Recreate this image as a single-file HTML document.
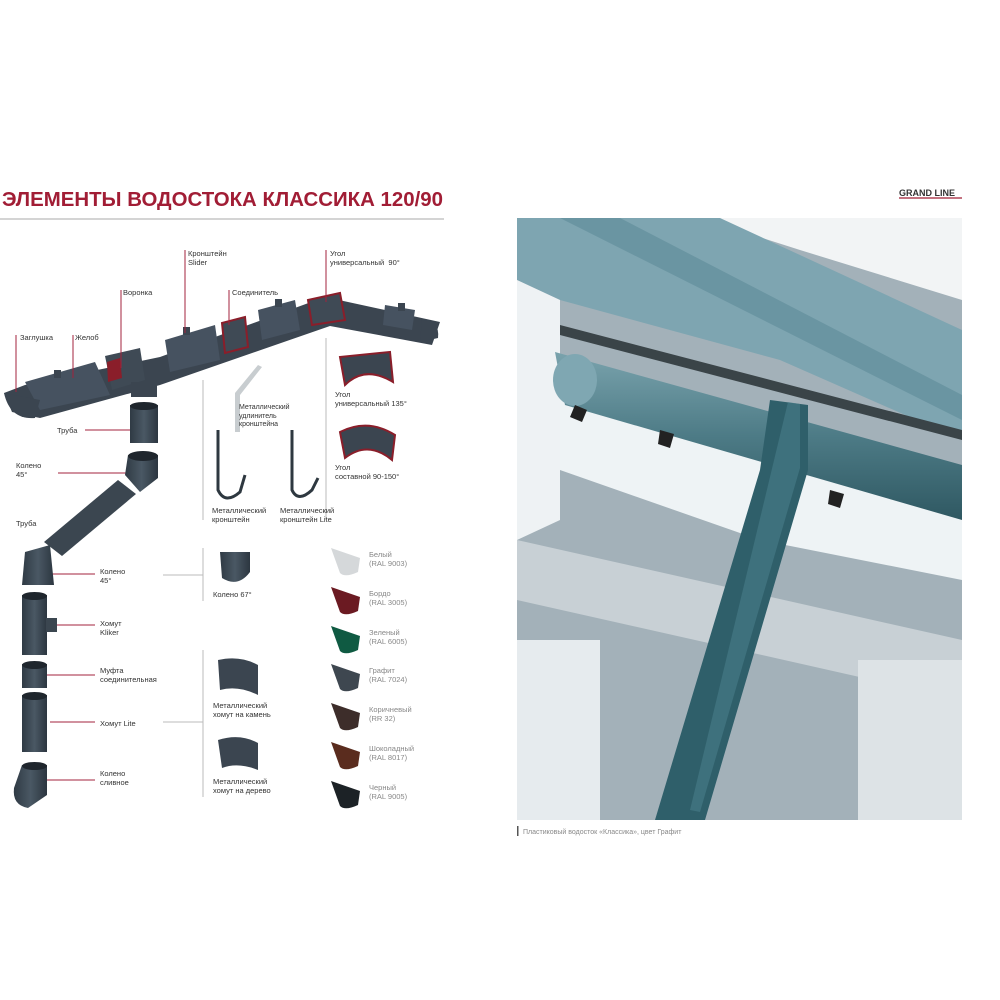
<!DOCTYPE html>
<html><head><meta charset="utf-8"><style>
body{margin:0;width:1000px;height:1000px;background:#fff;position:relative;overflow:hidden;font-family:"Liberation Sans","DejaVu Sans",sans-serif}
.t{position:absolute;font-size:7.5px;line-height:9px;color:#333;white-space:nowrap}
.g{color:#888}
svg{position:absolute;left:0;top:0}
</style></head><body>
<svg width="1000" height="1000" viewBox="0 0 1000 1000">
<defs>
<linearGradient id="pp" x1="0" x2="1"><stop offset="0" stop-color="#2f3a44"/><stop offset=".5" stop-color="#4a5864"/><stop offset="1" stop-color="#2c3640"/></linearGradient>
<linearGradient id="gt" x1="0" y1="0" x2="0" y2="1"><stop offset="0" stop-color="#7aa3ad"/><stop offset=".5" stop-color="#4d7b86"/><stop offset="1" stop-color="#2f5862"/></linearGradient>
</defs>
<text x="2" y="206" font-family="Liberation Sans,sans-serif" font-weight="bold" font-size="20" fill="#a11d35" textLength="441" lengthAdjust="spacingAndGlyphs">ЭЛЕМЕНТЫ ВОДОСТОКА КЛАССИКА 120/90</text>
<line x1="0" y1="219" x2="444" y2="219" stroke="#aaa" stroke-width="1"/>
<!-- gutter chain -->
<polygon points="4,393 25,385 160,357 325,297 440,322 432,345 330,326 160,385 40,418 12,412" fill="#3b4550"/>
<polygon points="25,382 95,362 110,395 40,410" fill="#465260"/>
<polygon points="105,356 140,348 145,380 112,390" fill="#3f4a55"/>
<polygon points="165,340 215,325 220,360 170,372" fill="#465260"/>
<polygon points="222,323 245,317 248,347 225,353" fill="#3f4a55" stroke="#8a1e2a" stroke-width="2"/>
<polygon points="258,310 295,300 300,330 262,340" fill="#465260"/>
<polygon points="308,300 340,293 345,320 312,325" fill="#3f4a55" stroke="#8a1e2a" stroke-width="2"/>
<polygon points="385,305 415,310 412,330 383,325" fill="#465260"/>
<polygon points="107,362 120,358 122,378 108,382" fill="#8a1e2a"/>
<path d="M4 393 Q10 420 35 418 L40 400 Z" fill="#3b4550"/>
<path d="M422 320 Q440 320 438 338 L420 342 Z" fill="#3b4550"/>
<rect x="54" y="370" width="7" height="8" fill="#3b4550"/><rect x="183" y="327" width="7" height="8" fill="#3b4550"/><rect x="275" y="299" width="7" height="8" fill="#3b4550"/><rect x="398" y="303" width="7" height="8" fill="#3b4550"/>
<rect x="131" y="382" width="26" height="15" fill="#3b4550"/>
<!-- red label lines -->
<g stroke="#a3233c" stroke-width="1">
<line x1="16" y1="335" x2="16" y2="392"/><line x1="73" y1="335" x2="73" y2="378"/><line x1="121" y1="290" x2="121" y2="368"/>
<line x1="185" y1="250" x2="185" y2="333"/><line x1="229" y1="290" x2="229" y2="325"/><line x1="326" y1="250" x2="326" y2="302"/>
<line x1="85" y1="430" x2="130" y2="430"/><line x1="58" y1="473" x2="135" y2="473"/>
<line x1="43" y1="574" x2="95" y2="574"/><line x1="55" y1="625" x2="95" y2="625"/><line x1="43" y1="675" x2="95" y2="675"/><line x1="50" y1="722" x2="95" y2="722"/><line x1="45" y1="780" x2="95" y2="780"/>
</g>
<g stroke="#bbb" stroke-width="1">
<line x1="203" y1="380" x2="203" y2="520"/><line x1="326" y1="338" x2="326" y2="520"/>
<line x1="203" y1="548" x2="203" y2="601"/><line x1="163" y1="575" x2="203" y2="575"/>
<line x1="203" y1="650" x2="203" y2="797"/><line x1="163" y1="722" x2="203" y2="722"/>
</g>
<!-- pipes left -->
<rect x="130" y="405" width="28" height="38" fill="url(#pp)"/><ellipse cx="144" cy="406" rx="14" ry="4" fill="#1f262d"/>
<path d="M128 455 L158 455 L158 478 L140 492 L125 475 Z" fill="url(#pp)"/><ellipse cx="143" cy="456" rx="15" ry="5" fill="#1f262d"/>
<polygon points="118,480 136,494 62,556 44,542" fill="#3b4650"/>
<path d="M25 552 L50 545 L54 585 L22 585 Z" fill="url(#pp)"/>
<rect x="22" y="595" width="25" height="60" fill="url(#pp)"/><ellipse cx="34.5" cy="596" rx="12.5" ry="4" fill="#1f262d"/><rect x="46" y="618" width="11" height="14" fill="#3b4650"/>
<rect x="22" y="664" width="25" height="24" fill="url(#pp)"/><ellipse cx="34.5" cy="665" rx="12.5" ry="4" fill="#1f262d"/>
<rect x="22" y="695" width="25" height="57" fill="url(#pp)"/><ellipse cx="34.5" cy="696" rx="12.5" ry="4" fill="#1f262d"/>
<path d="M22 765 L47 765 L47 795 L28 808 Q12 805 14 788 Z" fill="url(#pp)"/><ellipse cx="34.5" cy="766" rx="12.5" ry="4" fill="#1f262d"/>
<!-- middle items -->
<polygon points="258,365 262,367 240,395 240,432 235,432 235,393" fill="#c8cdd0"/>
<path d="M218 430 L218 490 Q225 505 240 492 L245 475" stroke="#2e3840" stroke-width="3" fill="none"/>
<path d="M292 430 L292 490 Q298 503 312 490 L318 478" stroke="#2e3840" stroke-width="3" fill="none"/>
<path d="M220 552 L250 552 L250 572 Q238 588 222 578 Z" fill="url(#pp)"/>
<path d="M340 357 L390 352 L393 382 Q365 365 345 385 Z" fill="#3b4550" stroke="#8a1e2a" stroke-width="2"/>
<path d="M340 432 Q368 418 395 435 L392 460 Q368 440 345 458 Z" fill="#3b4550" stroke="#8a1e2a" stroke-width="2"/>
<path d="M218 660 Q240 655 258 665 L258 695 Q238 685 220 690 Z" fill="#3b4550"/>
<path d="M218 740 Q240 733 258 743 L258 770 Q238 762 222 768 Z" fill="#3b4550"/>
<!-- colour swatches -->
<g>
<path d="M331 548 L360 558 L358 572 Q345 578 340 573 Z" fill="#d5d8da"/>
<path d="M331 587 L360 597 L358 611 Q345 617 340 612 Z" fill="#6b1a22"/>
<path d="M331 626 L360 636 L358 650 Q345 656 340 651 Z" fill="#0f5a42"/>
<path d="M331 664 L360 674 L358 688 Q345 694 340 689 Z" fill="#3e4750"/>
<path d="M331 703 L360 713 L358 727 Q345 733 340 728 Z" fill="#3d2d2a"/>
<path d="M331 742 L360 752 L358 766 Q345 772 340 767 Z" fill="#5a2c1e"/>
<path d="M331 781 L360 791 L358 805 Q345 811 340 806 Z" fill="#1c2226"/>
</g>
<!-- photo -->
<rect x="517" y="218" width="445" height="602" fill="#a3b1b9"/>
<polygon points="700,218 962,218 962,300 800,250" fill="#f2f4f5"/>
<polygon points="517,218 720,218 962,330 962,440 780,360 560,300 517,280" fill="#7ea5b1"/>
<polygon points="560,218 620,218 962,395 962,420" fill="#5d8a97" opacity=".6"/>
<polygon points="517,280 560,300 560,520 517,540" fill="#eef2f4"/>
<polygon points="560,360 962,480 962,580 760,540 560,470" fill="#eef3f5"/>
<polygon points="560,325 962,430 962,440 560,335" fill="#3a4448"/>
<polygon points="555,352 962,465 962,520 565,405" fill="url(#gt)"/>
<ellipse cx="575" cy="380" rx="22" ry="26" fill="#7fa7b2"/>
<path d="M575 405 l12 5 l-5 12 l-12 -5 Z M660 430 l14 4 l-4 14 l-12 -4 Z M830 490 l14 4 l-4 14 l-12 -4 Z" fill="#222"/>
<polygon points="517,540 962,640 962,700 517,600" fill="#c8d0d5"/>
<polygon points="517,640 600,640 600,820 517,820" fill="#e6ebee"/>
<polygon points="858,660 962,660 962,820 858,820" fill="#dde3e6"/>
<polygon points="770,400 808,405 808,470 705,820 655,820 760,470" fill="#2f5f6a"/>
<polygon points="788,402 800,404 800,468 700,812 690,810" fill="#4e8390" opacity=".5"/>
<rect x="517" y="826" width="1.5" height="10" fill="#555"/>
<text x="523" y="834" font-size="7" fill="#888" font-family="Liberation Sans,sans-serif">Пластиковый водосток «Классика», цвет Графит</text>
<text x="899" y="196" font-size="9" font-weight="bold" fill="#333" font-family="Liberation Sans,sans-serif">GRAND LINE</text>
<line x1="899" y1="198" x2="962" y2="198" stroke="#a11d35" stroke-width="1.2"/>
</svg>
<div class="t" style="left:188px;top:249px">Кронштейн<br>Slider</div>
<div class="t" style="left:330px;top:249px">Угол<br>универсальный&nbsp; 90°</div>
<div class="t" style="left:123px;top:288px">Воронка</div>
<div class="t" style="left:232px;top:288px">Соединитель</div>
<div class="t" style="left:20px;top:333px">Заглушка</div>
<div class="t" style="left:75px;top:333px">Желоб</div>
<div class="t" style="left:57px;top:426px">Труба</div>
<div class="t" style="left:335px;top:390px">Угол<br>универсальный 135°</div>
<div class="t" style="left:239px;top:404px;font-size:7px;line-height:8.5px">Металлический<br>удлинитель<br>кронштейна</div>
<div class="t" style="left:335px;top:463px">Угол<br>составной 90-150°</div>
<div class="t" style="left:16px;top:461px">Колено<br>45°</div>
<div class="t" style="left:212px;top:506px">Металлический<br>кронштейн</div>
<div class="t" style="left:280px;top:506px">Металлический<br>кронштейн Lite</div>
<div class="t" style="left:16px;top:519px">Труба</div>
<div class="t" style="left:100px;top:567px">Колено<br>45°</div>
<div class="t" style="left:213px;top:590px">Колено 67°</div>
<div class="t" style="left:100px;top:619px">Хомут<br>Kliker</div>
<div class="t" style="left:100px;top:666px">Муфта<br>соединительная</div>
<div class="t" style="left:100px;top:719px">Хомут Lite</div>
<div class="t" style="left:100px;top:769px">Колено<br>сливное</div>
<div class="t" style="left:213px;top:701px">Металлический<br>хомут на камень</div>
<div class="t" style="left:213px;top:777px">Металлический<br>хомут на дерево</div>
<div class="t g" style="left:369px;top:550px">Белый<br>(RAL 9003)</div>
<div class="t g" style="left:369px;top:589px">Бордо<br>(RAL 3005)</div>
<div class="t g" style="left:369px;top:628px">Зеленый<br>(RAL 6005)</div>
<div class="t g" style="left:369px;top:666px">Графит<br>(RAL 7024)</div>
<div class="t g" style="left:369px;top:705px">Коричневый<br>(RR 32)</div>
<div class="t g" style="left:369px;top:744px">Шоколадный<br>(RAL 8017)</div>
<div class="t g" style="left:369px;top:783px">Черный<br>(RAL 9005)</div>
</body></html>
